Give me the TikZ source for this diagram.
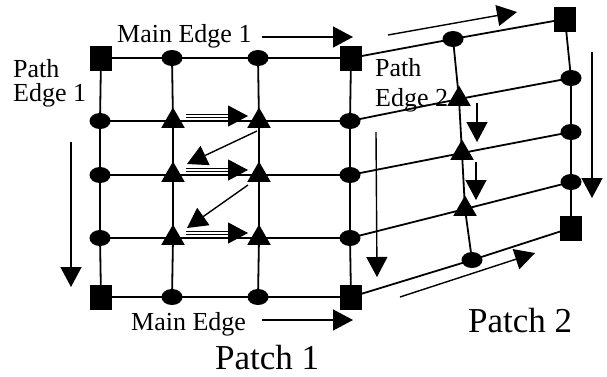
\documentclass[tikz,border=0pt]{standalone}
\usepackage{fontspec}
\setmainfont{Liberation Serif}
\usetikzlibrary{arrows.meta,shapes.geometric}
\tikzset{
  sq/.style={rectangle, fill=black, minimum width=22pt, minimum height=25pt, inner sep=0pt},
  dot/.style={ellipse, fill=black, minimum width=21pt, minimum height=16pt, inner sep=0pt},
  tri/.style={regular polygon, regular polygon sides=3, fill=black, minimum size=27pt, inner sep=0pt},
  grid/.style={line width=1.8pt},
  arr/.style={line width=1.4pt, -{Triangle[length=20pt,width=21pt]}},
  dbl/.style={double, double distance=1.6pt, line width=1.1pt, -{Triangle[length=20pt,width=21pt]}},
  lbl/.style={font=\fontsize{26}{24}\selectfont, inner sep=0pt, anchor=base west, align=left},
  big/.style={font=\fontsize{35}{38}\selectfont, inner sep=0pt, anchor=base west}
}
\begin{document}
\begin{tikzpicture}[x=1pt,y=-1pt]
\useasboundingbox (0,0) rectangle (607,376);
% Patch 1 nodes
\node[sq]  (a00) at (101,58) {};
\node[dot] (a01) at (172,58) {};
\node[dot] (a02) at (258,58) {};
\node[sq]  (a03) at (351,58) {};
\node[dot] (a10) at (100,121) {};
\node[tri] (a11) at (173,121) {};
\node[tri] (a12) at (259,121) {};
\node[dot] (a13) at (350,121) {};
\node[dot] (a20) at (100,175) {};
\node[tri] (a21) at (173,175) {};
\node[tri] (a22) at (259,175) {};
\node[dot] (a23) at (350,175) {};
\node[dot] (a30) at (100,238) {};
\node[tri] (a31) at (173,238) {};
\node[tri] (a32) at (259,238) {};
\node[dot] (a33) at (350,238) {};
\node[sq]  (a40) at (101,297) {};
\node[dot] (a41) at (172,297) {};
\node[dot] (a42) at (258,297) {};
\node[sq]  (a43) at (351,297) {};
% Patch 2 nodes
\node[dot] (b0) at (453,39) {};
\node[tri] (b1) at (459,99) {};
\node[tri] (b2) at (462,153) {};
\node[tri] (b3) at (465,209) {};
\node[dot] (b4) at (472,260) {};
\node[sq]  (c0) at (565,19) {};
\node[dot] (c1) at (571,78) {};
\node[dot] (c2) at (571,132) {};
\node[dot] (c3) at (571,182) {};
\node[sq]  (c4) at (571,228) {};
% grid lines
\foreach \r in {0,...,4}{
  \draw[grid] (a\r0.center) -- (a\r1.center) -- (a\r2.center) -- (a\r3.center) -- (b\r.center) -- (c\r.center);
}
\foreach \c in {0,...,3}{
  \draw[grid] (a0\c.center) -- (a1\c.center) -- (a2\c.center) -- (a3\c.center) -- (a4\c.center);
}
\draw[grid] (b0.center) -- (b1.center) -- (b2.center) -- (b3.center) -- (b4.center);
\draw[grid] (c0.center) -- (c1.center) -- (c2.center) -- (c3.center) -- (c4.center);
% labels
\node[lbl] (me1) at (117,42) {Main Edge 1};
\node[lbl] (pe1) at (13,101) {Path\\Edge 1};
\node[lbl, font=\fontsize{26}{30}\selectfont] (pe2) at (375,106) {Path\\Edge 2};
\node[lbl] (me) at (131,330) {Main Edge};
\node[big] (p1) at (215,369) {Patch 1};
\node[big] (p2) at (468,332) {Patch 2};
% arrow end points
\coordinate (m1s) at (262,37);  \coordinate (m1e) at (353,37);
\coordinate (ms)  at (262,320); \coordinate (mee) at (353,320);
\coordinate (l1s) at (71,142);  \coordinate (l1e) at (71,287);
\coordinate (d1s) at (186,116); \coordinate (d1e) at (248,116);
\coordinate (d2s) at (186,170); \coordinate (d2e) at (248,170);
\coordinate (d3s) at (186,233); \coordinate (d3e) at (248,233);
\coordinate (g1s) at (257,131); \coordinate (g1e) at (187,164);
\coordinate (g2s) at (248,185); \coordinate (g2e) at (187,228);
\coordinate (ts)  at (388,35);  \coordinate (te)  at (517,12);
\coordinate (bs)  at (400,297); \coordinate (be)  at (535,253);
\coordinate (v1s) at (376,132); \coordinate (v1e) at (377,277);
\coordinate (v2s) at (592,52);  \coordinate (v2e) at (592,198);
\coordinate (s1s) at (477,103); \coordinate (s1e) at (477,142);
\coordinate (s2s) at (476,162); \coordinate (s2e) at (476,200);
% arrows
\draw[arr] (m1s) -- (m1e);
\draw[arr] (ms) -- (mee);
\draw[arr] (l1s) -- (l1e);
\draw[dbl] (d1s) -- (d1e);
\draw[dbl] (d2s) -- (d2e);
\draw[dbl] (d3s) -- (d3e);
\draw[arr] (g1s) -- (g1e);
\draw[arr] (g2s) -- (g2e);
\draw[arr] (ts) -- (te);
\draw[arr] (bs) -- (be);
\draw[arr] (v1s) -- (v1e);
\draw[arr] (v2s) -- (v2e);
\draw[arr] (s1s) -- (s1e);
\draw[arr] (s2s) -- (s2e);
\end{tikzpicture}
\end{document}
